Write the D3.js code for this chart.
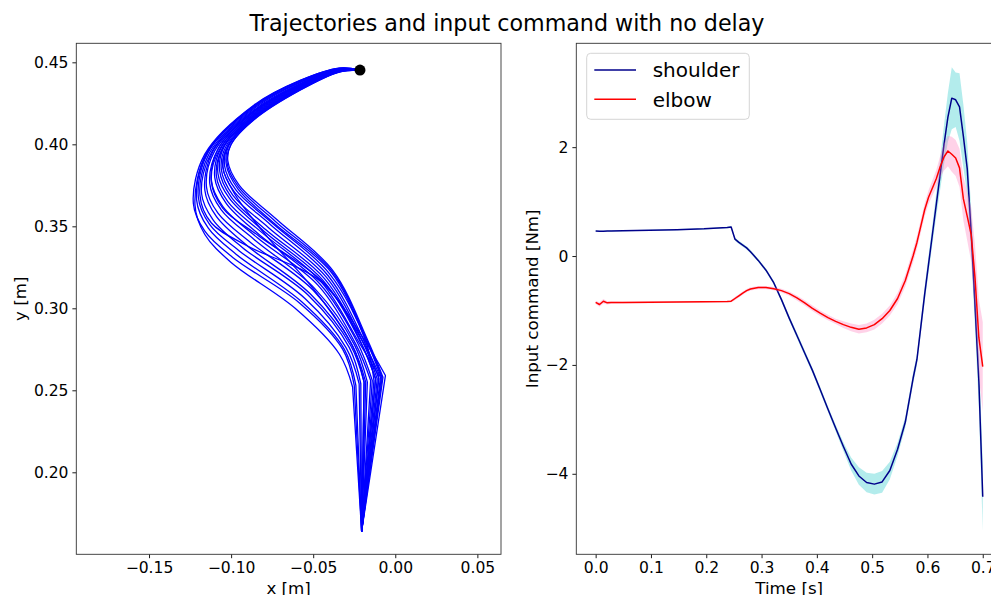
<!DOCTYPE html>
<html>
<head>
<meta charset="utf-8">
<script src="https://cdn.jsdelivr.net/npm/d3@7"></script>
<style>
  html, body { margin: 0; padding: 0; background: #fff; }
  svg { display: block; font-family: "DejaVu Sans", sans-serif; }
</style>
</head>
<body>
<svg id="chart" width="991" height="595"></svg>
<script>
// ---------------- DATA ----------------
const titleText = "Trajectories and input command with no delay";

// Left panel: hand-traced trajectories (x, y in metres)
const trajX = [
  [-0.0215,-0.034,-0.058,-0.086,-0.116,-0.123,-0.116,-0.099,-0.058,-0.032,-0.025,-0.0205],
  [-0.0215,-0.034,-0.058,-0.086,-0.115,-0.121,-0.114,-0.097,-0.057,-0.031,-0.024,-0.0205],
  [-0.0215,-0.034,-0.058,-0.086,-0.114,-0.120,-0.113,-0.095,-0.055,-0.030,-0.022,-0.0205],
  [-0.0215,-0.034,-0.058,-0.086,-0.112,-0.118,-0.111,-0.093,-0.053,-0.028,-0.021,-0.0205],
  [-0.0215,-0.034,-0.058,-0.086,-0.111,-0.116,-0.109,-0.090,-0.052,-0.027,-0.019,-0.0205],
  [-0.0215,-0.034,-0.058,-0.086,-0.110,-0.115,-0.108,-0.088,-0.050,-0.026,-0.018,-0.0205],
  [-0.0215,-0.034,-0.058,-0.086,-0.108,-0.113,-0.106,-0.086,-0.049,-0.025,-0.017,-0.0205],
  [-0.0215,-0.034,-0.058,-0.086,-0.107,-0.112,-0.105,-0.084,-0.047,-0.024,-0.015,-0.0205],
  [-0.0215,-0.034,-0.058,-0.086,-0.106,-0.110,-0.103,-0.083,-0.046,-0.023,-0.014,-0.0205],
  [-0.0215,-0.034,-0.058,-0.086,-0.105,-0.109,-0.102,-0.081,-0.045,-0.022,-0.010,-0.0205],
  [-0.0215,-0.034,-0.058,-0.086,-0.105,-0.108,-0.101,-0.080,-0.044,-0.021,-0.012,-0.0205],
  [-0.0215,-0.034,-0.058,-0.086,-0.104,-0.107,-0.100,-0.079,-0.043,-0.021,-0.012,-0.0205],
  [-0.0215,-0.034,-0.058,-0.086,-0.103,-0.106,-0.099,-0.077,-0.042,-0.020,-0.011,-0.0205],
  [-0.0215,-0.034,-0.058,-0.086,-0.102,-0.105,-0.098,-0.076,-0.041,-0.019,-0.010,-0.0205],
  [-0.0215,-0.034,-0.058,-0.086,-0.1018,-0.104,-0.097,-0.075,-0.040,-0.018,-0.013,-0.0205],
  [-0.0215,-0.034,-0.058,-0.086,-0.101,-0.103,-0.096,-0.074,-0.039,-0.018,-0.0085,-0.0205],
  [-0.0215,-0.034,-0.058,-0.086,-0.100,-0.1025,-0.0955,-0.073,-0.0385,-0.0175,-0.008,-0.0205],
  [-0.0215,-0.034,-0.058,-0.086,-0.100,-0.102,-0.095,-0.072,-0.038,-0.017,-0.0075,-0.0205],
  [-0.0215,-0.034,-0.058,-0.086,-0.113,-0.119,-0.112,-0.090,-0.045,-0.020,-0.009,-0.0205],
  [-0.0215,-0.034,-0.058,-0.086,-0.102,-0.105,-0.098,-0.080,-0.050,-0.026,-0.019,-0.0205],
  [-0.0215,-0.034,-0.058,-0.086,-0.108,-0.112,-0.105,-0.083,-0.044,-0.019,-0.006,-0.0205],
  [-0.0215,-0.034,-0.058,-0.086,-0.115,-0.122,-0.116,-0.100,-0.061,-0.034,-0.026,-0.0205]
];
const trajY = [
  [0.4453,0.4465,0.439,0.424,0.394,0.364,0.347,0.331,0.303,0.275,0.253,0.164],
  [0.4453,0.4463,0.4386,0.4234,0.394,0.366,0.349,0.333,0.304,0.275,0.253,0.164],
  [0.4453,0.4461,0.438,0.423,0.395,0.368,0.351,0.335,0.306,0.276,0.254,0.164],
  [0.4453,0.4459,0.4376,0.4218,0.395,0.370,0.354,0.337,0.308,0.276,0.254,0.164],
  [0.4453,0.4457,0.437,0.421,0.396,0.372,0.356,0.338,0.309,0.277,0.255,0.164],
  [0.4453,0.4455,0.4366,0.4204,0.396,0.374,0.358,0.340,0.311,0.277,0.255,0.164],
  [0.4453,0.4454,0.4362,0.4198,0.397,0.376,0.360,0.342,0.312,0.278,0.255,0.164],
  [0.4453,0.4452,0.4358,0.4191,0.397,0.378,0.362,0.343,0.314,0.278,0.256,0.164],
  [0.4453,0.4451,0.4354,0.4186,0.398,0.380,0.364,0.345,0.315,0.279,0.256,0.164],
  [0.4453,0.4449,0.4351,0.4181,0.398,0.381,0.365,0.346,0.316,0.279,0.259,0.164],
  [0.4453,0.4448,0.4348,0.4177,0.398,0.382,0.367,0.347,0.317,0.279,0.257,0.164],
  [0.4453,0.4447,0.4345,0.4173,0.399,0.384,0.368,0.348,0.318,0.2795,0.257,0.164],
  [0.4453,0.4446,0.4342,0.4168,0.399,0.385,0.369,0.349,0.319,0.280,0.257,0.164],
  [0.4453,0.4445,0.4339,0.4164,0.399,0.386,0.371,0.351,0.320,0.280,0.257,0.164],
  [0.4453,0.4444,0.4337,0.416,0.399,0.387,0.372,0.352,0.321,0.280,0.256,0.164],
  [0.4453,0.4443,0.4334,0.4156,0.400,0.388,0.373,0.352,0.322,0.281,0.258,0.164],
  [0.4453,0.4442,0.4332,0.4153,0.400,0.389,0.374,0.353,0.3225,0.281,0.258,0.164],
  [0.4453,0.4441,0.433,0.415,0.400,0.390,0.375,0.354,0.323,0.281,0.258,0.164],
  [0.4453,0.446,0.438,0.4225,0.395,0.369,0.352,0.338,0.316,0.280,0.258,0.164],
  [0.4453,0.4445,0.4339,0.4164,0.399,0.386,0.370,0.346,0.312,0.277,0.255,0.164],
  [0.4453,0.4454,0.4362,0.4198,0.397,0.377,0.361,0.344,0.316,0.281,0.259,0.164],
  [0.4453,0.4464,0.4388,0.4236,0.3945,0.363,0.345,0.328,0.300,0.272,0.252,0.164]
];
const startPoint = [-0.0215, 0.4453];
const leftXTicks = [-0.15, -0.10, -0.05, 0.00, 0.05];
const leftYTicks = [0.20, 0.25, 0.30, 0.35, 0.40, 0.45];
const leftXLim = [-0.1943, 0.0644];
const leftYLim = [0.15, 0.4616];

// Right panel: input command [Nm] vs time [s]
const time = [0,0.007,0.014,0.021,0.028,0.049,0.098,0.147,0.196,0.238,0.245,0.252,0.259,0.266,0.273,0.280,
  0.294,0.308,0.322,0.336,0.350,0.364,0.378,0.392,0.406,0.420,0.434,0.448,0.462,0.476,0.490,0.504,0.518,
  0.532,0.546,0.560,0.574,0.581,0.588,0.595,0.602,0.609,0.616,0.623,0.630,0.637,0.644,0.651,0.658,0.665,
  0.672,0.679,0.686,0.693,0.700];
const shoulderMean = [0.46,0.455,0.455,0.46,0.46,0.465,0.475,0.485,0.50,0.525,0.535,0.31,0.25,0.20,0.15,0.08,
  -0.08,-0.26,-0.49,-0.80,-1.14,-1.46,-1.78,-2.10,-2.45,-2.81,-3.16,-3.50,-3.82,-4.04,-4.16,-4.19,-4.15,
  -3.94,-3.55,-3.05,-2.25,-1.90,-1.30,-0.70,-0.15,0.40,0.95,1.50,2.05,2.55,2.90,2.87,2.74,2.20,
  1.60,0.45,-0.90,-2.30,-4.42];
const shoulderStd = [0.01,0.01,0.01,0.01,0.01,0.01,0.01,0.012,0.012,0.015,0.02,0.03,0.03,0.03,0.03,0.03,
  0.03,0.03,0.035,0.04,0.045,0.05,0.05,0.05,0.05,0.05,0.06,0.08,0.12,0.16,0.18,0.19,0.20,
  0.16,0.12,0.10,0.10,0.10,0.12,0.14,0.16,0.18,0.22,0.28,0.36,0.45,0.57,0.50,0.62,0.58,
  0.48,0.42,0.42,0.50,0.63];
const elbowMean = [-0.85,-0.89,-0.83,-0.86,-0.855,-0.855,-0.85,-0.845,-0.84,-0.835,-0.83,-0.78,-0.73,-0.68,-0.635,-0.605,
  -0.58,-0.58,-0.60,-0.635,-0.69,-0.77,-0.86,-0.96,-1.05,-1.13,-1.20,-1.26,-1.31,-1.345,-1.32,-1.26,-1.15,
  -1.00,-0.78,-0.45,0.00,0.25,0.55,0.85,1.08,1.25,1.42,1.64,1.82,1.93,1.87,1.80,1.62,1.05,
  0.73,0.40,-0.40,-1.50,-2.03];
const elbowStd = [0.03,0.04,0.04,0.03,0.02,0.015,0.015,0.015,0.015,0.015,0.02,0.03,0.03,0.03,0.03,0.03,
  0.03,0.03,0.03,0.035,0.04,0.045,0.05,0.05,0.05,0.05,0.05,0.06,0.07,0.08,0.08,0.09,0.09,
  0.09,0.10,0.11,0.12,0.12,0.12,0.12,0.13,0.14,0.16,0.20,0.25,0.28,0.32,0.33,0.35,0.40,
  0.45,0.50,0.60,0.70,0.82];
const rightXTicks = [0.0, 0.1, 0.2, 0.3, 0.4, 0.5, 0.6, 0.7];
const rightYTicks = [-4, -2, 0, 2];
const rightXLim = [-0.035, 0.735];
const rightYLim = [-5.479, 3.908];
const seriesNames = ["shoulder", "elbow"];

// ---------------- DRAW ----------------
const svg = d3.select("#chart");
const TICK_FS = 15.56, LABEL_FS = 16.7;

function drawAxes(g, x, y, xt, yt, xfmt, yfmt, box) {
  const ax = g.append("g").attr("transform", `translate(0,${box.y1})`)
    .call(d3.axisBottom(x).tickValues(xt).tickFormat(xfmt).tickSize(3.9).tickPadding(3.9));
  const ay = g.append("g").attr("transform", `translate(${box.x0},0)`)
    .call(d3.axisLeft(y).tickValues(yt).tickFormat(yfmt).tickSize(3.9).tickPadding(3.9));
  [ax, ay].forEach(a => {
    a.select(".domain").remove();
    a.selectAll(".tick line").attr("stroke", "#000").attr("stroke-width", 0.9);
    a.selectAll(".tick text").attr("fill", "#000").style("font-size", TICK_FS + "px")
      .style("font-family", "DejaVu Sans");
  });
  g.append("rect").attr("x", box.x0).attr("y", box.y0)
    .attr("width", box.x1 - box.x0).attr("height", box.y1 - box.y0)
    .attr("fill", "none").attr("stroke", "#333").attr("stroke-width", 0.9);
}

// Title
svg.append("text").attr("x", 507).attr("y", 31).attr("text-anchor", "middle")
  .style("font-size", "22.2px").attr("fill", "#000").text(titleText);

// ---- Left panel ----
const LB = {x0: 76.3, x1: 501, y0: 43.3, y1: 554.3};
const xL = d3.scaleLinear().domain(leftXLim).range([LB.x0, LB.x1]);
const yL = d3.scaleLinear().domain(leftYLim).range([LB.y1, LB.y0]);
const gL = svg.append("g");
svg.append("defs").append("clipPath").attr("id", "clipL")
  .append("rect").attr("x", LB.x0).attr("y", LB.y0).attr("width", LB.x1 - LB.x0).attr("height", LB.y1 - LB.y0);
const smooth = d3.line().x(d => xL(d[0])).y(d => yL(d[1])).curve(d3.curveCatmullRom.alpha(0.5));
const trajG = gL.append("g").attr("clip-path", "url(#clipL)");
trajX.forEach((xs, i) => {
  const pts = xs.map((xv, j) => [xv, trajY[i][j]]);
  const last = pts[pts.length - 1];
  const d = smooth(pts.slice(0, -1)) + "L" + xL(last[0]) + "," + yL(last[1]);
  trajG.append("path").attr("d", d).attr("fill", "none")
    .attr("stroke", "#0000ff").attr("stroke-width", 1.3).attr("stroke-linejoin", "round");
});
trajG.append("circle").attr("cx", xL(startPoint[0])).attr("cy", yL(startPoint[1]))
  .attr("r", 5.5).attr("fill", "#000");
drawAxes(gL, xL, yL, leftXTicks, leftYTicks, d3.format(".2f"), d3.format(".2f"), LB);
gL.append("text").attr("x", (LB.x0 + LB.x1) / 2).attr("y", 594).attr("text-anchor", "middle")
  .style("font-size", LABEL_FS + "px").text("x [m]");
gL.append("text").attr("transform", `translate(25.5,${(LB.y0 + LB.y1) / 2}) rotate(-90)`)
  .attr("text-anchor", "middle").style("font-size", LABEL_FS + "px").text("y [m]");

// ---- Right panel ----
const RB = {x0: 576.3, x1: 1002.1, y0: 43.3, y1: 554.3};
const xR = d3.scaleLinear().domain(rightXLim).range([RB.x0, RB.x1]);
const yR = d3.scaleLinear().domain(rightYLim).range([RB.y1, RB.y0]);
const gR = svg.append("g");
svg.select("defs").append("clipPath").attr("id", "clipR")
  .append("rect").attr("x", RB.x0).attr("y", RB.y0).attr("width", RB.x1 - RB.x0).attr("height", RB.y1 - RB.y0);
const plotR = gR.append("g").attr("clip-path", "url(#clipR)");

const series = [
  {name: seriesNames[0], mean: shoulderMean, std: shoulderStd, line: "#00008b", fill: "#41d0d0", op: 0.4},
  {name: seriesNames[1], mean: elbowMean, std: elbowStd, line: "#ff0000", fill: "#ff69b4", op: 0.3}
];
series.forEach(s => {
  const rows = time.map((t, i) => ({t, m: s.mean[i], sd: s.std[i]}));
  plotR.append("path").datum(rows)
    .attr("d", d3.area().x(d => xR(d.t)).y0(d => yR(d.m - d.sd)).y1(d => yR(d.m + d.sd)))
    .attr("fill", s.fill).attr("fill-opacity", s.op).attr("stroke", "none");
  plotR.append("path").datum(rows)
    .attr("d", d3.line().x(d => xR(d.t)).y(d => yR(d.m)))
    .attr("fill", "none").attr("stroke", s.line).attr("stroke-width", 1.5).attr("stroke-linejoin", "round");
});
drawAxes(gR, xR, yR, rightXTicks, rightYTicks, d3.format(".1f"), d3.format("d"), RB);
gR.append("text").attr("x", (RB.x0 + RB.x1) / 2).attr("y", 594).attr("text-anchor", "middle")
  .style("font-size", LABEL_FS + "px").text("Time [s]");
gR.append("text").attr("transform", `translate(537.5,${(RB.y0 + RB.y1) / 2}) rotate(-90)`)
  .attr("text-anchor", "middle").style("font-size", LABEL_FS + "px").text("Input command [Nm]");

// Legend
const lg = gR.append("g");
lg.append("rect").attr("x", 586.7).attr("y", 53.3).attr("width", 162.6).attr("height", 66)
  .attr("rx", 4).attr("fill", "#fff").attr("fill-opacity", 0.8).attr("stroke", "#d0d0d0").attr("stroke-width", 0.9);
series.forEach((s, i) => {
  const yy = 70 + i * 29.3;
  lg.append("line").attr("x1", 594.3).attr("x2", 636).attr("y1", yy).attr("y2", yy)
    .attr("stroke", s.line).attr("stroke-width", 1.5);
  lg.append("text").attr("x", 652.7).attr("y", yy + 7.4).style("font-size", "20px").text(s.name);
});
</script>
</body>
</html>
